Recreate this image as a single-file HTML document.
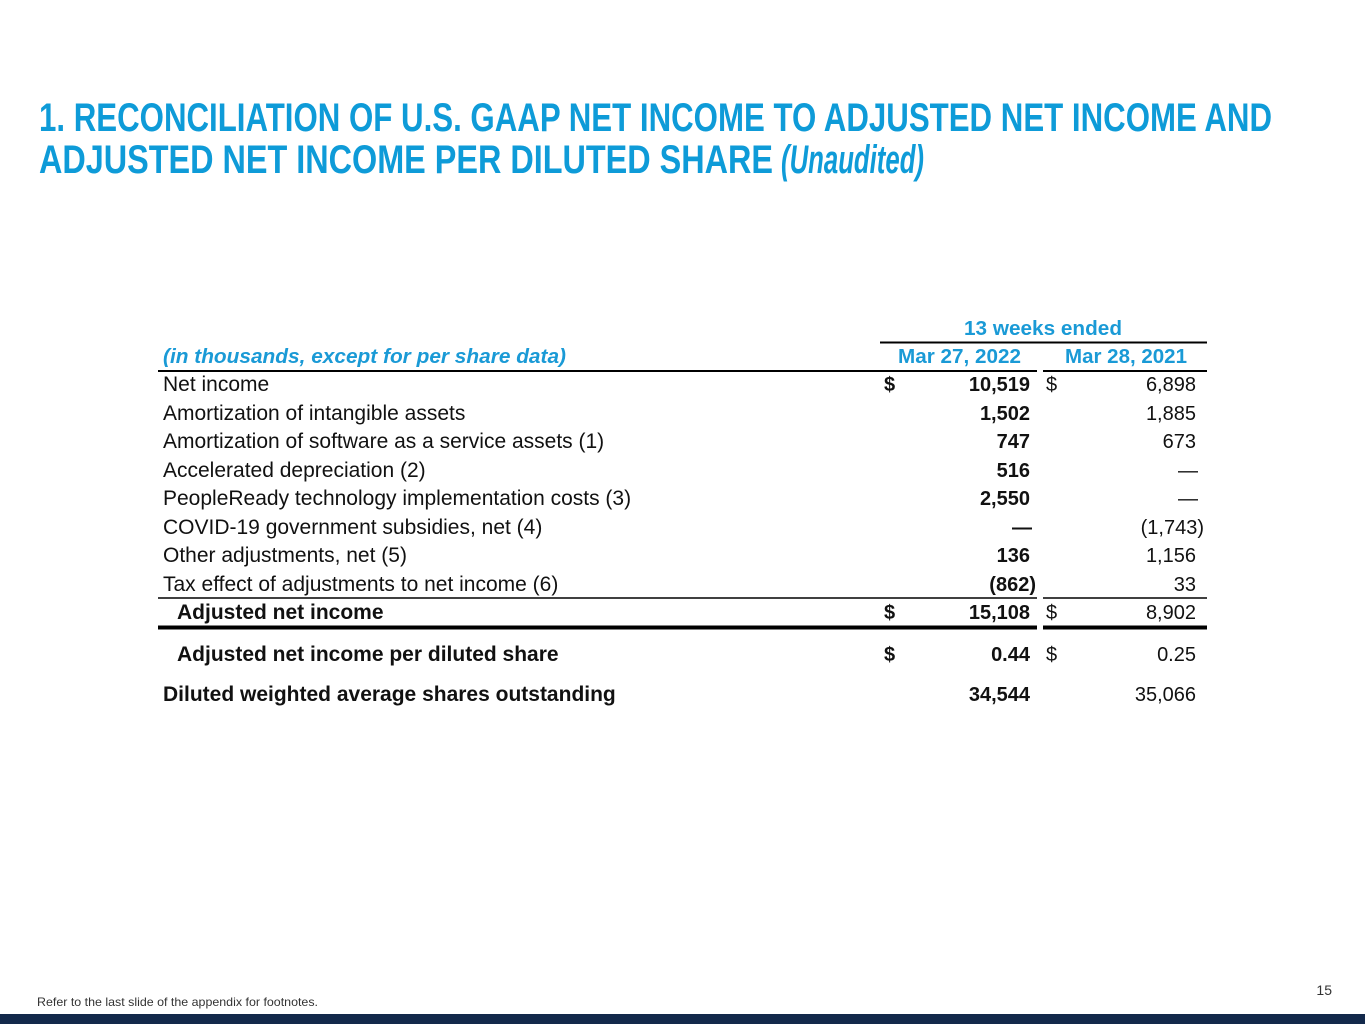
<!DOCTYPE html>
<html><head><meta charset="utf-8"><style>
html,body{margin:0;padding:0;background:#fff;}
svg{display:block;}
text{font-family:"Liberation Sans",Arial,sans-serif;}
</style></head><body>
<svg width="1365" height="1024" viewBox="0 0 1365 1024" xmlns="http://www.w3.org/2000/svg">
<g fill="#0e9bd8" font-weight="bold" font-size="40">
<text x="39" y="131" textLength="1233" lengthAdjust="spacingAndGlyphs">1. RECONCILIATION OF U.S. GAAP NET INCOME TO ADJUSTED NET INCOME AND</text>
<text x="39" y="173" textLength="734" lengthAdjust="spacingAndGlyphs">ADJUSTED NET INCOME PER DILUTED SHARE</text>
<text x="781" y="173" textLength="143" lengthAdjust="spacingAndGlyphs" font-style="italic">(Unaudited)</text>
</g>
<g fill="#1a9ad6" font-weight="bold" font-size="20">
<text x="964" y="335" textLength="158" lengthAdjust="spacingAndGlyphs">13 weeks ended</text>
<text x="163" y="363" font-style="italic" textLength="403" lengthAdjust="spacingAndGlyphs">(in thousands, except for per share data)</text>
<text x="898" y="363" textLength="123" lengthAdjust="spacingAndGlyphs">Mar 27, 2022</text>
<text x="1065" y="363" textLength="122" lengthAdjust="spacingAndGlyphs">Mar 28, 2021</text>
</g>
<g stroke="#000">
<line x1="880" y1="342.5" x2="1207" y2="342.5" stroke-width="2"/>
<line x1="158" y1="371" x2="1037" y2="371" stroke-width="2"/>
<line x1="1043" y1="371" x2="1207" y2="371" stroke-width="2"/>
<line x1="158" y1="598" x2="1037" y2="598" stroke-width="1.5"/>
<line x1="1043" y1="598" x2="1207" y2="598" stroke-width="1.5"/>
<line x1="158" y1="627.5" x2="1037" y2="627.5" stroke-width="4"/>
<line x1="1043" y1="627.5" x2="1207" y2="627.5" stroke-width="4"/>
</g>
<g fill="#111" font-size="21">
<text x="163" y="391">Net income</text>
<text x="163" y="420">Amortization of intangible assets</text>
<text x="163" y="448">Amortization of software as a service assets (1)</text>
<text x="163" y="477">Accelerated depreciation (2)</text>
<text x="163" y="505">PeopleReady technology implementation costs (3)</text>
<text x="163" y="534">COVID-19 government subsidies, net (4)</text>
<text x="163" y="562">Other adjustments, net (5)</text>
<text x="163" y="591">Tax effect of adjustments to net income (6)</text>
</g>
<g fill="#111" font-size="20">
<text x="1046" y="391">$</text>
<text x="1046" y="619">$</text>
<text x="1046" y="661">$</text>
<g text-anchor="end">
<text x="1196" y="391">6,898</text>
<text x="1196" y="420">1,885</text>
<text x="1196" y="448">673</text>
<text x="1198" y="477">—</text>
<text x="1198" y="505">—</text>
<text x="1204" y="534">(1,743)</text>
<text x="1196" y="562">1,156</text>
<text x="1196" y="591">33</text>
<text x="1196" y="619">8,902</text>
<text x="1196" y="661">0.25</text>
<text x="1196" y="701">35,066</text>
</g>
</g>
<g fill="#111" font-size="21" font-weight="bold">
<text x="177" y="619">Adjusted net income</text>
<text x="177" y="661">Adjusted net income per diluted share</text>
<text x="163" y="701">Diluted weighted average shares outstanding</text>
</g>
<g fill="#111" font-size="20" font-weight="bold">
<text x="884" y="391">$</text>
<text x="884" y="619">$</text>
<text x="884" y="661">$</text>
<g text-anchor="end">
<text x="1030" y="391">10,519</text>
<text x="1030" y="420">1,502</text>
<text x="1030" y="448">747</text>
<text x="1030" y="477">516</text>
<text x="1030" y="505">2,550</text>
<text x="1032" y="534">—</text>
<text x="1030" y="562">136</text>
<text x="1036" y="591">(862)</text>
<text x="1030" y="619">15,108</text>
<text x="1030" y="661">0.44</text>
<text x="1030" y="701">34,544</text>
</g>
</g>
<text x="37" y="1006" font-size="12" fill="#333" textLength="281" lengthAdjust="spacingAndGlyphs">Refer to the last slide of the appendix for footnotes.</text>
<text x="1332" y="995" font-size="14" fill="#333" text-anchor="end">15</text>
<rect x="0" y="1014" width="1365" height="10" fill="#13294b"/>
</svg>
</body></html>
